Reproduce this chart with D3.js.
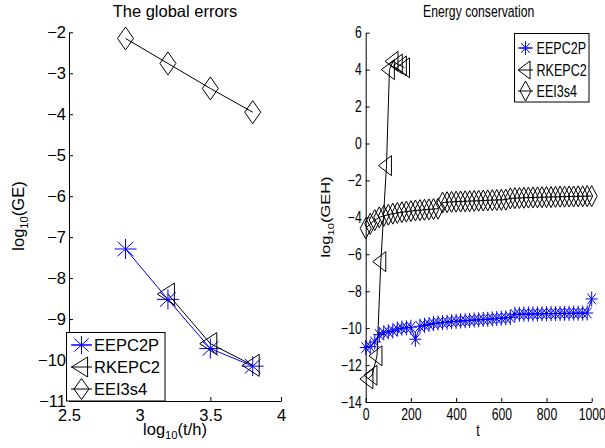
<!DOCTYPE html>
<html><head><meta charset="utf-8">
<script src="https://cdn.jsdelivr.net/npm/d3@7"></script>
<style>body{margin:0;background:#fff}svg{display:block}text{font-family:"Liberation Sans",Arial,Helvetica,sans-serif;fill:#000}</style>
</head><body><svg id="c" width="605" height="448"></svg>
<script>
// ---------- data ----------
const seriesNames = ["EEPC2P", "RKEPC2", "EEI3s4"];
// left panel: global errors
const geX = [2.9, 3.2, 3.5, 3.8];
const geEEPC2P = [-7.29, -8.52, -9.72, -10.15];
const geRKX = [3.2, 3.5, 3.8];
const geRKEPC2 = [-8.39, -9.60, -10.13];
const geEEI3s4 = [-2.15, -2.76, -3.37, -3.95];
const leftXTicks = [2.5, 3, 3.5, 4];
const leftYTicks = [-11, -10, -9, -8, -7, -6, -5, -4, -3, -2];
// right panel: energy conservation
const tT = [0,20,40,60,80,100,120,140,160,180,200,220,240,260,280,300,320,340,360,380,400,420,440,460,480,500,520,540,560,580,600,620,640,660,680,700,720,740,760,780,800,820,840,860,880,900,920,940,960,980,1000];
const gehEEPC2P = [-11.05,-11.0,-10.75,-10.35,-10.25,-10.2,-10.15,-10.05,-10.0,-9.98,-9.95,-10.6,-9.9,-9.85,-9.8,-9.75,-9.72,-9.7,-9.68,-9.65,-9.63,-9.61,-9.6,-9.58,-9.56,-9.55,-9.53,-9.52,-9.5,-9.48,-9.46,-9.44,-9.42,-9.25,-9.25,-9.24,-9.24,-9.23,-9.23,-9.22,-9.22,-9.21,-9.21,-9.2,-9.2,-9.2,-9.19,-9.19,-9.19,-9.18,-8.42];
const gehEEI3s4 = [-4.6,-4.35,-4.15,-4.0,-3.92,-3.86,-3.8,-3.76,-3.72,-3.69,-3.66,-3.63,-3.61,-3.59,-3.57,-3.55,-3.53,-3.2,-3.18,-3.16,-3.15,-3.14,-3.13,-3.12,-3.11,-3.1,-3.09,-3.08,-3.07,-3.06,-3.05,-3.04,-2.97,-2.96,-2.95,-2.94,-2.93,-2.92,-2.92,-2.91,-2.9,-2.9,-2.89,-2.88,-2.88,-2.87,-2.87,-2.86,-2.86,-2.85,-2.85];
const rkT = [10, 28, 50, 67, 92, 105, 121, 140, 158, 172];
const gehRKEPC2 = [-12.75, -12.55, -11.5, -6.4, -1.2, 4.0, 4.45, 4.3, 4.2, 4.1];
const rightXTicks = [0, 200, 400, 600, 800, 1000];
const rightYTicks = [-14, -12, -10, -8, -6, -4, -2, 0, 2, 4, 6];

// ---------- helpers ----------
const BLUE = "#0000ff", BLACK = "#000";
const svg = d3.select("#c");
const fmt = d => String(d).replace("-", "\u2212");
function starPath(w, h) {
  const a = w / 2 * 0.72, b = h / 2 * 0.72;
  return `M${-w/2},0H${w/2}M0,${-h/2}V${h/2}M${-a},${-b}L${a},${b}M${-a},${b}L${a},${-b}`;
}
function diamondPath(w, h) { return `M0,${-h/2}L${w/2},0L0,${h/2}L${-w/2},0Z`; }
function triPath(w, h) { return `M${-0.62*w},0L${0.38*w},${-h/2}L${0.38*w},${h/2}Z`; }

function series(g, xs, ys, sx, sy, color, mpath) {
  const pts = xs.map((x, i) => [x, ys[i]]);
  g.append("path").datum(pts)
    .attr("d", d3.line().x(d => sx(d[0])).y(d => sy(d[1])))
    .attr("fill", "none").attr("stroke", color).attr("stroke-width", 1);
  g.append("g").selectAll("path").data(pts).join("path")
    .attr("transform", d => `translate(${sx(d[0])},${sy(d[1])})`)
    .attr("d", mpath).attr("fill", "none").attr("stroke", color).attr("stroke-width", 1);
}
function styleAxis(g, fs) {
  g.select(".domain").attr("stroke", "#000").attr("stroke-width", 1);
  g.selectAll(".tick line").attr("stroke", "#000");
  g.selectAll("text").attr("font-size", fs).attr("fill", "#000")
    .style("font-family", '"Liberation Sans",Arial,sans-serif');
}
function logLabel(sel, main, sub, rest, fs) {
  sel.append("tspan").text(main);
  sel.append("tspan").text(sub).attr("font-size", fs * 0.68).attr("dy", fs * 0.3);
  sel.append("tspan").text(rest).attr("dy", -fs * 0.3);
}

// ---------- left panel ----------
const FS = 16.5;
const xL = d3.scaleLinear().domain([2.5, 4]).range([69, 281]);
const yL = d3.scaleLinear().domain([-11, -2]).range([401, 32.3]);
const L = svg.append("g");
const axLy = L.append("g").attr("transform", `translate(69,0)`)
  .call(d3.axisLeft(yL).tickValues(leftYTicks).tickFormat(fmt).tickSize(-4).tickSizeOuter(0).tickPadding(3));
styleAxis(axLy, FS);
const axLx = L.append("g").attr("transform", `translate(0,401)`)
  .call(d3.axisBottom(xL).tickValues(leftXTicks).tickFormat(fmt).tickSize(-4).tickSizeOuter(0).tickPadding(8));
styleAxis(axLx, FS);

series(L, geX, geEEPC2P, xL, yL, BLUE, starPath(22, 20));
series(L, geRKX, geRKEPC2, xL, yL, BLACK, triPath(17, 22));
series(L, geX, geEEI3s4, xL, yL, BLACK, diamondPath(16, 23));

L.append("text").attr("x", 175).attr("y", 17).attr("text-anchor", "middle").attr("font-size", FS).text("The global errors");
logLabel(L.append("text").attr("x", 175).attr("y", 434.5).attr("text-anchor", "middle").attr("font-size", FS), "log", "10", "(t/h)", FS);
logLabel(L.append("text").attr("transform", "translate(23.5,216) rotate(-90)").attr("text-anchor", "middle").attr("font-size", FS), "log", "10", "(GE)", FS);

// left legend
const lgL = L.append("g");
lgL.append("rect").attr("x", 66.5).attr("y", 332.5).attr("width", 98.5).attr("height", 68.5)
  .attr("fill", "#fff").attr("stroke", "#000").attr("stroke-width", 1);
const legL = [
  { name: seriesNames[0], c: BLUE, p: starPath(20, 18), y: 345 },
  { name: seriesNames[1], c: BLACK, p: triPath(16, 20), y: 367 },
  { name: seriesNames[2], c: BLACK, p: diamondPath(15, 21), y: 389 }
];
legL.forEach(e => {
  lgL.append("line").attr("x1", 71).attr("x2", 92).attr("y1", e.y).attr("y2", e.y).attr("stroke", e.c);
  lgL.append("path").attr("transform", `translate(81.5,${e.y})`).attr("d", e.p).attr("fill", "none").attr("stroke", e.c);
  lgL.append("text").attr("x", 94).attr("y", e.y + 6).attr("font-size", FS).text(e.name);
});

// ---------- right panel ----------
const K = 0.74; // horizontally condensed text
const xR = d3.scaleLinear().domain([0, 1000]).range([365.7, 591.7]);
const yR = d3.scaleLinear().domain([-14, 6]).range([402, 32.7]);
const R = svg.append("g");
const axRy = R.append("g").attr("transform", `translate(365.7,0)`)
  .call(d3.axisLeft(yR).tickValues(rightYTicks).tickFormat(fmt).tickSize(-4).tickSizeOuter(0).tickPadding(4));
styleAxis(axRy, FS);
axRy.selectAll("text").attr("transform", `scale(${K},1)`).attr("x", -4 / K);
const axRx = R.append("g").attr("transform", `translate(0,402)`)
  .call(d3.axisBottom(yR.copy().domain([0,1]).range([0,0])).tickValues([]));
axRx.remove();
const axRx2 = R.append("g").attr("transform", `translate(0,402)`)
  .call(d3.axisBottom(xR).tickValues(rightXTicks).tickFormat(fmt).tickSize(-4).tickSizeOuter(0).tickPadding(6));
styleAxis(axRx2, FS);
axRx2.selectAll("text").attr("transform", `scale(${K},1)`);

series(R, tT, gehEEPC2P, xR, yR, BLUE, starPath(12, 15));
series(R, rkT, gehRKEPC2, xR, yR, BLACK, triPath(13, 20));
series(R, tT, gehEEI3s4, xR, yR, BLACK, diamondPath(11, 21));

R.append("text").attr("transform", `scale(${K},1)`).attr("x", 478.7 / K).attr("y", 17)
  .attr("text-anchor", "middle").attr("font-size", FS).text("Energy conservation");
R.append("text").attr("transform", `scale(${K},1)`).attr("x", 478 / K).attr("y", 436.5)
  .attr("text-anchor", "middle").attr("font-size", FS).text("t");
logLabel(R.append("text").attr("transform", `translate(330,217) scale(${K},1) rotate(-90)`)
  .attr("text-anchor", "middle").attr("font-size", FS), "log", "10", "(GEH)", FS);

// right legend
const lgR = R.append("g");
lgR.append("rect").attr("x", 514.5).attr("y", 33.5).attr("width", 74.5).attr("height", 68.5)
  .attr("fill", "#fff").attr("stroke", "#000").attr("stroke-width", 1);
const legR = [
  { name: seriesNames[0], c: BLUE, p: starPath(12, 14), y: 48 },
  { name: seriesNames[1], c: BLACK, p: triPath(12, 18), y: 70 },
  { name: seriesNames[2], c: BLACK, p: diamondPath(11, 20), y: 91 }
];
legR.forEach(e => {
  lgR.append("line").attr("x1", 518).attr("x2", 533).attr("y1", e.y).attr("y2", e.y).attr("stroke", e.c);
  lgR.append("path").attr("transform", `translate(525.5,${e.y})`).attr("d", e.p).attr("fill", "none").attr("stroke", e.c);
  lgR.append("text").attr("transform", `scale(${K},1)`).attr("x", 536.5 / K).attr("y", e.y + 6.5)
    .attr("font-size", 17).text(e.name);
});
</script></body></html>
